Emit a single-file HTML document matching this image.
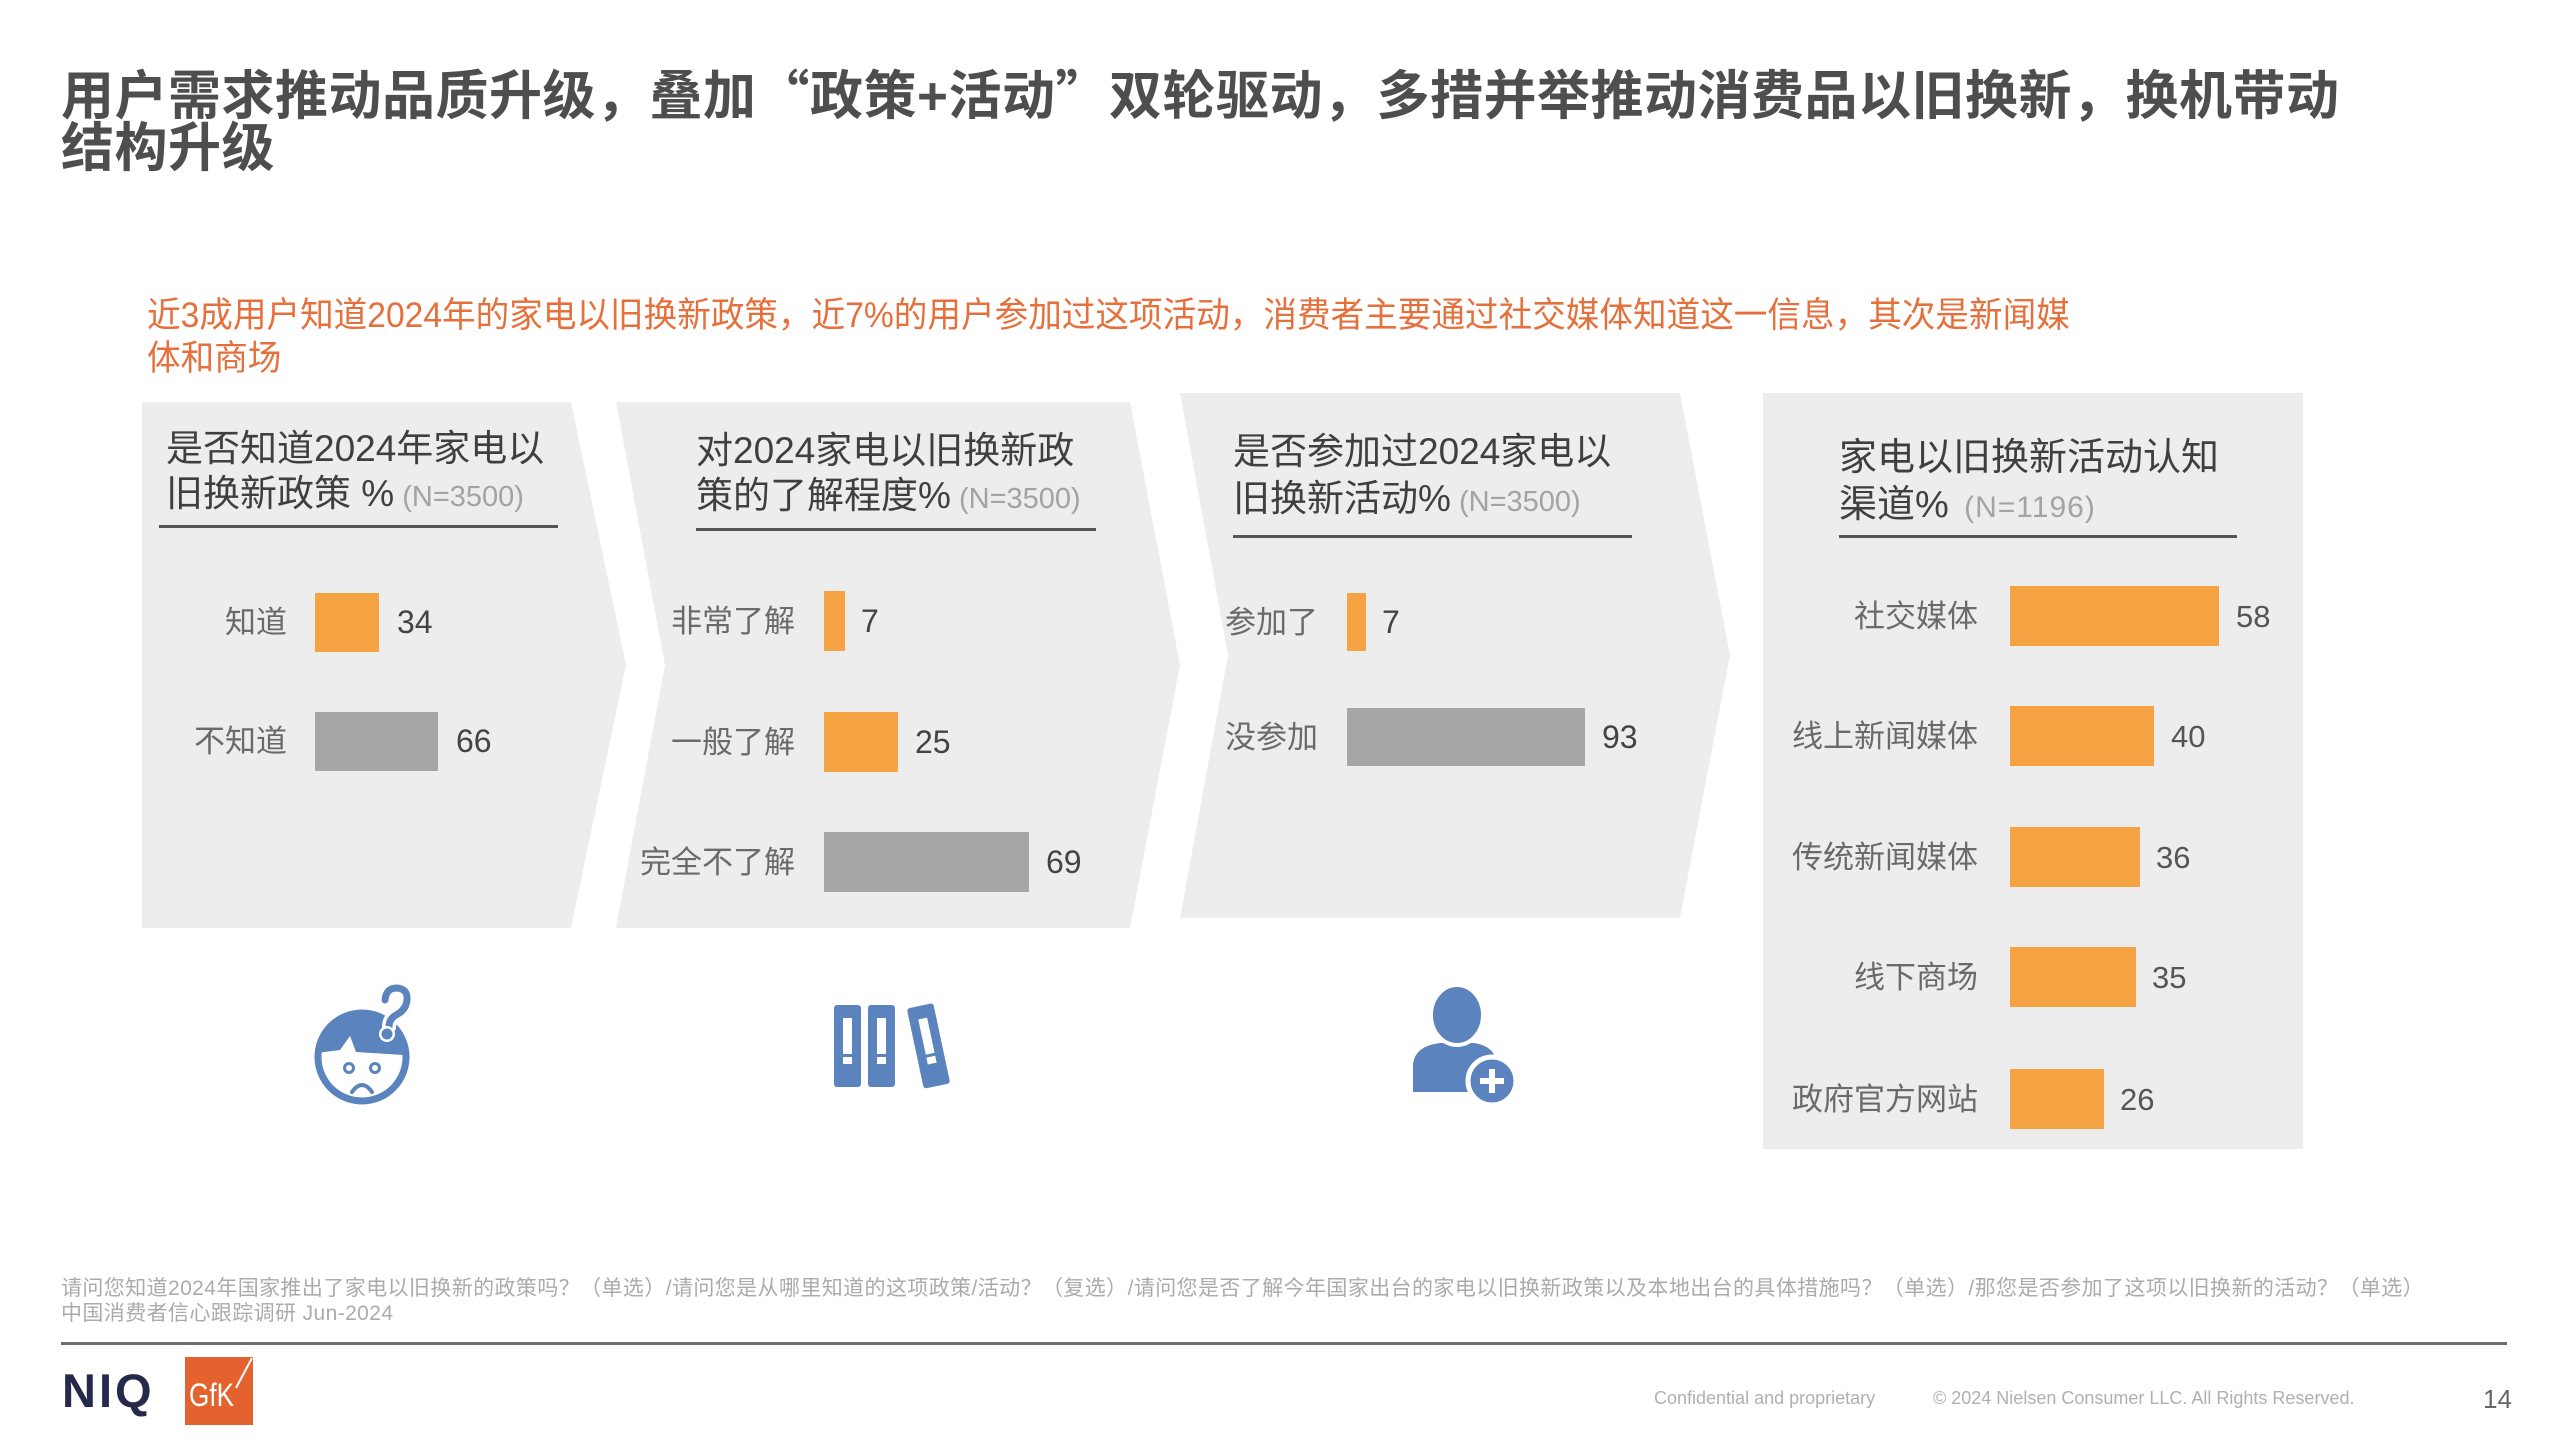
<!DOCTYPE html>
<html>
<head>
<meta charset="utf-8">
<style>
html,body{margin:0;padding:0;}
body{width:2560px;height:1440px;background:#fff;position:relative;overflow:hidden;font-family:"Liberation Sans","Noto Sans CJK SC",sans-serif;}
.t{position:absolute;white-space:nowrap;line-height:1;font-family:"Liberation Sans","Noto Sans CJK SC",sans-serif;}
.title{font-size:53px;font-weight:700;color:#4e4e4e;left:61px;letter-spacing:0.5px;}
.q{font-family:"Noto Sans CJK SC",sans-serif;}
.sub{font-size:35px;color:#e5703c;left:147px;transform:scaleX(0.96);transform-origin:0 0;}
.pt{font-size:37px;color:#3f3f3f;}
.pt4{font-size:38px;color:#3f3f3f;}
.n{font-size:29px;color:#a3a3a3;}
.n4{font-size:30px;color:#a3a3a3;letter-spacing:1px;margin-left:6px;}
.lb{font-size:31px;color:#6a6a6a;text-align:right;width:240px;}
.v{font-size:32px;color:#444;}
.v4{font-size:31px;color:#555;}
.fn{font-size:21px;color:#ababab;left:61px;letter-spacing:0.4px;}
.ft{font-size:18px;color:#b0b0b0;}
</style>
</head>
<body>
<svg width="2560" height="1440" style="position:absolute;left:0;top:0" xmlns="http://www.w3.org/2000/svg">
  <!-- panels -->
  <polygon points="142,402 571,402 626,665 571,928 142,928" fill="#ededed"/>
  <polygon points="616,402 1130,402 1180,665 1130,928 616,928 665,665" fill="#ededed"/>
  <polygon points="1180,393 1680,393 1730,655 1680,918 1180,918 1228,655" fill="#ededed"/>
  <rect x="1763" y="393" width="540" height="756" fill="#ededed"/>
  <!-- underlines -->
  <rect x="159" y="525" width="399" height="3" fill="#555"/>
  <rect x="696" y="528" width="400" height="3" fill="#555"/>
  <rect x="1233" y="535" width="399" height="3" fill="#555"/>
  <rect x="1839" y="535" width="398" height="3" fill="#555"/>
  <!-- panel 1 bars -->
  <rect x="315" y="593" width="64" height="59" fill="#f5a343"/>
  <rect x="315" y="712" width="123" height="59" fill="#a6a6a6"/>
  <!-- panel 2 bars -->
  <rect x="824" y="591" width="21" height="60" fill="#f5a343"/>
  <rect x="824" y="712" width="74" height="60" fill="#f5a343"/>
  <rect x="824" y="832" width="205" height="60" fill="#a6a6a6"/>
  <!-- panel 3 bars -->
  <rect x="1347" y="593" width="19" height="58" fill="#f5a343"/>
  <rect x="1347" y="708" width="238" height="58" fill="#a6a6a6"/>
  <!-- panel 4 bars -->
  <rect x="2010" y="586" width="209" height="60" fill="#f5a343"/>
  <rect x="2010" y="706" width="144" height="60" fill="#f5a343"/>
  <rect x="2010" y="827" width="130" height="60" fill="#f5a343"/>
  <rect x="2010" y="947" width="126" height="60" fill="#f5a343"/>
  <rect x="2010" y="1069" width="94" height="60" fill="#f5a343"/>

  <!-- face icon -->
  <defs>
    <clipPath id="fc"><circle cx="362" cy="1057" r="44"/></clipPath>
  </defs>
  <circle cx="362" cy="1057" r="44" fill="#fff" stroke="#5b84be" stroke-width="7"/>
  <path d="M310,1054 L340,1050 L350,1036 L356,1052 L420,1056 L420,1000 L310,1000 Z" fill="#5b84be" clip-path="url(#fc)"/>
  <path d="M385,1000 Q386,988 397,988 Q408,989 407,1000 Q406,1010 396,1015 Q389,1019 389,1027" fill="none" stroke="#fff" stroke-width="14" stroke-linecap="round"/>
  <path d="M385,1000 Q386,988 397,988 Q408,989 407,1000 Q406,1010 396,1015 Q389,1019 389,1027" fill="none" stroke="#5b84be" stroke-width="7" stroke-linecap="round"/>
  <circle cx="387" cy="1034" r="8" fill="#fff"/>
  <circle cx="387" cy="1034" r="5.5" fill="#5b84be"/>
  <circle cx="349" cy="1068" r="4.5" fill="#fff" stroke="#5b84be" stroke-width="3"/>
  <circle cx="375" cy="1068" r="4.5" fill="#fff" stroke="#5b84be" stroke-width="3"/>
  <path d="M352,1092 Q362,1078 372,1092" fill="none" stroke="#5b84be" stroke-width="4" stroke-linecap="round"/>

  <!-- binders icon -->
  <rect x="834" y="1005" width="27" height="82" rx="3" fill="#5b84be"/>
  <rect x="843" y="1018" width="9" height="36" fill="#fff"/>
  <rect x="843" y="1057" width="9" height="7" fill="#fff"/>
  <rect x="868" y="1005" width="27" height="82" rx="3" fill="#5b84be"/>
  <rect x="877" y="1018" width="9" height="36" fill="#fff"/>
  <rect x="877" y="1057" width="9" height="7" fill="#fff"/>
  <g transform="rotate(-12 928 1046)">
    <rect x="915" y="1005" width="27" height="82" rx="3" fill="#5b84be"/>
    <rect x="924" y="1018" width="9" height="36" fill="#fff"/>
    <rect x="924" y="1057" width="9" height="7" fill="#fff"/>
  </g>

  <!-- person icon -->
  <path d="M1413,1092 L1413,1064 Q1415,1046 1440,1043 L1474,1043 Q1495,1046 1497,1064 L1497,1092 Z" fill="#5b84be"/>
  <ellipse cx="1457" cy="1015" rx="26" ry="30" fill="#5b84be" stroke="#fff" stroke-width="4"/>
  <circle cx="1492" cy="1081" r="24" fill="#5b84be" stroke="#fff" stroke-width="5"/>
  <rect x="1480" y="1078" width="24" height="6" fill="#fff"/>
  <rect x="1489" y="1069" width="6" height="24" fill="#fff"/>

  <!-- footer rule -->
  <rect x="61" y="1342" width="2446" height="3" fill="#6e6e6e"/>
  <!-- GfK logo -->
  <rect x="185" y="1357" width="68" height="68" fill="#e3622d"/>
  <text x="189" y="1406" font-family="Liberation Sans, sans-serif" font-size="32" fill="#fff" textLength="45" lengthAdjust="spacingAndGlyphs">GfK</text>
  <line x1="236" y1="1388" x2="252" y2="1358" stroke="#fff" stroke-width="2"/>
</svg>

<!-- main title -->
<div class="t title" style="top:66px;">用户需求推动品质升级，叠加<span class="q">“</span>政策+活动<span class="q">”</span>双轮驱动，多措并举推动消费品以旧换新，换机带动</div>
<div class="t title" style="top:122px;">结构升级</div>

<!-- orange subtitle -->
<div class="t sub" style="top:298px;">近3成用户知道2024年的家电以旧换新政策，近7%的用户参加过这项活动，消费者主要通过社交媒体知道这一信息，其次是新闻媒</div>
<div class="t sub" style="top:341px;">体和商场</div>

<!-- panel 1 -->
<div class="t pt" style="left:166px;top:430px;">是否知道2024年家电以</div>
<div class="t pt" style="left:166px;top:475px;">旧换新政策 %<span class="n"> (N=3500)</span></div>
<div class="t lb" style="left:47px;top:607px;">知道</div>
<div class="t lb" style="left:47px;top:726px;">不知道</div>
<div class="t v" style="left:397px;top:606px;">34</div>
<div class="t v" style="left:456px;top:725px;">66</div>

<!-- panel 2 -->
<div class="t pt" style="left:696px;top:432px;">对2024家电以旧换新政</div>
<div class="t pt" style="left:696px;top:477px;">策的了解程度%<span class="n"> (N=3500)</span></div>
<div class="t lb" style="left:555px;top:606px;">非常了解</div>
<div class="t lb" style="left:555px;top:727px;">一般了解</div>
<div class="t lb" style="left:555px;top:847px;">完全不了解</div>
<div class="t v" style="left:861px;top:605px;">7</div>
<div class="t v" style="left:915px;top:726px;">25</div>
<div class="t v" style="left:1046px;top:846px;">69</div>

<!-- panel 3 -->
<div class="t pt" style="left:1233px;top:433px;">是否参加过2024家电以</div>
<div class="t pt" style="left:1233px;top:480px;">旧换新活动%<span class="n"> (N=3500)</span></div>
<div class="t lb" style="left:1078px;top:607px;">参加了</div>
<div class="t lb" style="left:1078px;top:722px;">没参加</div>
<div class="t v" style="left:1382px;top:606px;">7</div>
<div class="t v" style="left:1602px;top:721px;">93</div>

<!-- panel 4 -->
<div class="t pt4" style="left:1839px;top:439px;">家电以旧换新活动认知</div>
<div class="t pt4" style="left:1839px;top:486px;">渠道%<span class="n4"> (N=1196)</span></div>
<div class="t lb" style="left:1738px;top:601px;">社交媒体</div>
<div class="t lb" style="left:1738px;top:721px;">线上新闻媒体</div>
<div class="t lb" style="left:1738px;top:842px;">传统新闻媒体</div>
<div class="t lb" style="left:1738px;top:962px;">线下商场</div>
<div class="t lb" style="left:1738px;top:1084px;">政府官方网站</div>
<div class="t v4" style="left:2236px;top:601px;">58</div>
<div class="t v4" style="left:2171px;top:721px;">40</div>
<div class="t v4" style="left:2156px;top:842px;">36</div>
<div class="t v4" style="left:2152px;top:962px;">35</div>
<div class="t v4" style="left:2120px;top:1084px;">26</div>

<!-- footnotes -->
<div class="t fn" style="top:1278px;">请问您知道2024年国家推出了家电以旧换新的政策吗？（单选）/请问您是从哪里知道的这项政策/活动？（复选）/请问您是否了解今年国家出台的家电以旧换新政策以及本地出台的具体措施吗？（单选）/那您是否参加了这项以旧换新的活动？（单选）</div>
<div class="t fn" style="top:1303px;">中国消费者信心跟踪调研 Jun-2024</div>

<!-- footer -->
<div class="t" style="left:62px;top:1367px;font-size:47px;font-weight:700;color:#262a4a;letter-spacing:3px;">NIQ</div>
<div class="t ft" style="left:1654px;top:1389px;">Confidential and proprietary</div>
<div class="t ft" style="left:1933px;top:1389px;">© 2024 Nielsen Consumer LLC. All Rights Reserved.</div>
<div class="t" style="left:2483px;top:1386px;font-size:26px;color:#666;">14</div>
</body>
</html>
